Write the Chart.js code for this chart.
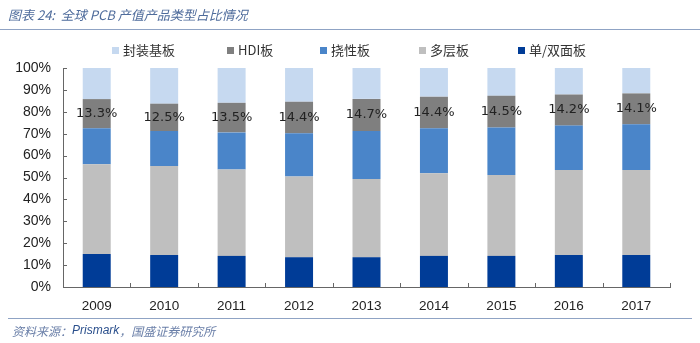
<!DOCTYPE html>
<html>
<head>
<meta charset="utf-8">
<script src="https://cdn.jsdelivr.net/npm/chart.js@4.4.1/dist/chart.umd.min.js"></script>
<style>
  html, body { margin: 0; padding: 0; background: #ffffff; }
  #wrap { position: relative; width: 700px; height: 343px; }
  canvas { display: block; }
</style>
</head>
<body>
<div id="wrap"><canvas id="c" width="700" height="343"></canvas></div>
<script>
// ---- data ----
const years = ['2009', '2010', '2011', '2012', '2013', '2014', '2015', '2016', '2017'];
const singleDouble = [15.1, 14.6, 14.2, 13.6, 13.6, 14.2, 14.2, 14.6, 14.6];   // 单/双面板
const multiLayer   = [40.9, 40.7, 39.5, 36.8, 35.7, 37.7, 36.9, 38.8, 38.8];   // 多层板
const flexible     = [16.5, 15.9, 16.9, 19.8, 21.9, 20.6, 21.7, 20.3, 20.9];   // 挠性板
const hdi          = [13.3, 12.5, 13.5, 14.4, 14.7, 14.4, 14.5, 14.2, 14.1];   // HDI板
const substrate    = [14.2, 16.3, 15.9, 15.4, 14.1, 13.1, 12.7, 12.1, 11.6];   // 封装基板
const seriesNames  = ['单/双面板', '多层板', '挠性板', 'HDI板', '封装基板'];
const yTicks = [0, 10, 20, 30, 40, 50, 60, 70, 80, 90, 100];
const titleText = '图表 24:  全球 PCB 产值产品类型占比情况';
const sourceText = ['资料来源：', 'Prismark', '，国盛证券研究所'];

const colors = ['#003c97', '#bfbfbf', '#4a85c9', '#7f7f7f', '#c6d9f0'];
const seriesData = [singleDouble, multiLayer, flexible, hdi, substrate];

const datasets = seriesData.map((d, i) => ({
  label: seriesNames[i],
  data: d,
  backgroundColor: colors[i],
  borderWidth: 0,
  categoryPercentage: 1.0,
  barPercentage: 0.415
}));

const decorPlugin = {
  id: 'decor',
  afterDraw(chart) {
    const ctx = chart.ctx;
    const ca = chart.chartArea;
    const ys = chart.scales.y;
    ctx.save();
    // inner ticks
    ctx.strokeStyle = '#666666';
    ctx.lineWidth = 1;
    ctx.beginPath();
    yTicks.forEach(v => {
      const y = Math.round(ys.getPixelForValue(v)) + 0.5;
      ctx.moveTo(ca.left, y); ctx.lineTo(ca.left + 4, y);
    });
    const n = years.length;
    for (let i = 0; i <= n; i++) {
      const x = Math.round(ca.left + (ca.right - ca.left) * i / n) + 0.5;
      ctx.moveTo(x, ca.bottom); ctx.lineTo(x, ca.bottom - 4);
    }
    ctx.stroke();

    // HDI data labels
    const meta = chart.getDatasetMeta(3);
    ctx.fillStyle = '#222222';
    ctx.font = '13px "DejaVu Sans"';
    ctx.textAlign = 'center';
    ctx.textBaseline = 'middle';
    meta.data.forEach((el, i) => {
      const cy = (el.y + el.base) / 2;
      ctx.fillText(hdi[i].toFixed(1) + '%', el.x, cy);
    });

    // legend (reverse order of stacking)
    const legendX = [112, 227, 320, 419, 518];
    ctx.font = '13px "Noto Sans CJK SC"';
    ctx.textAlign = 'left';
    ctx.textBaseline = 'middle';
    for (let k = 0; k < 5; k++) {
      const di = 4 - k;
      ctx.fillStyle = colors[di];
      ctx.fillRect(legendX[k], 47, 7, 7);
      ctx.fillStyle = '#333333';
      ctx.fillText(seriesNames[di], legendX[k] + 11, 50.5);
    }

    // title
    ctx.font = 'italic 13px "Noto Sans CJK SC"';
    ctx.fillStyle = '#4f6c9c';
    ctx.textBaseline = 'middle';
    ctx.fillText(titleText, 8, 15);
    // rule lines
    ctx.strokeStyle = '#8fa3c4';
    ctx.beginPath();
    ctx.moveTo(0, 29.5); ctx.lineTo(700, 29.5);
    ctx.moveTo(8, 318.5); ctx.lineTo(692, 318.5);
    ctx.stroke();
    // source
    ctx.font = 'italic 12px "Noto Sans CJK SC"';
    let x = 12;
    ctx.fillStyle = '#6a7fa8';
    ctx.fillText(sourceText[0], x, 331); x += ctx.measureText(sourceText[0]).width;
    ctx.font = 'italic 12px "Liberation Sans"';
    ctx.fillStyle = '#2a4f8c';
    ctx.fillText(sourceText[1], x, 331); x += ctx.measureText(sourceText[1]).width;
    ctx.font = 'italic 12px "Noto Sans CJK SC"';
    ctx.fillStyle = '#6a7fa8';
    ctx.fillText(sourceText[2], x, 331);
    ctx.restore();
  }
};

new Chart(document.getElementById('c'), {
  type: 'bar',
  data: { labels: years, datasets: datasets },
  options: {
    responsive: false,
    animation: false,
    layout: { padding: { left: 0, right: 30, top: 68, bottom: 0 } },
    plugins: { legend: { display: false }, title: { display: false }, tooltip: { enabled: false } },
    scales: {
      x: {
        stacked: true,
        grid: { display: false, drawTicks: false },
        border: { display: true, color: '#666666', width: 1 },
        ticks: { color: '#222222', font: { family: 'Liberation Sans', size: 13.5 }, padding: 11 },
        afterFit(scale) { scale.height = 56; }
      },
      y: {
        stacked: true,
        min: 0, max: 100,
        grid: { display: false, drawTicks: false },
        border: { display: true, color: '#666666', width: 1 },
        ticks: {
          stepSize: 10,
          color: '#222222',
          font: { family: 'Liberation Sans', size: 14 },
          padding: 12,
          callback: v => v + '%'
        },
        afterFit(scale) { scale.width = 63; }
      }
    }
  },
  plugins: [decorPlugin]
});
</script>
</body>
</html>
